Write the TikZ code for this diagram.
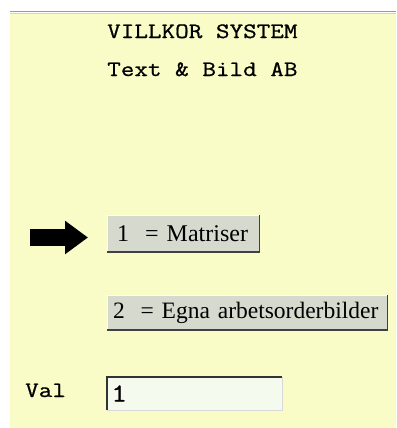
\documentclass[tikz,border=0pt]{standalone}
\usepackage{fontspec}
\setmainfont{Liberation Serif}
\setmonofont{Latin Modern Mono}[FakeStretch=1.2,FakeBold=0.8]
\usetikzlibrary{arrows.meta,positioning}
\definecolor{panelgul}{RGB}{250,252,200}
\definecolor{knappgra}{RGB}{214,218,206}
\definecolor{faltvit}{RGB}{244,250,238}

\begin{document}
\begin{tikzpicture}[x=1pt,y=-1pt,>=Latex]
  \tikzstyle{rubrik}=[anchor=base west,inner sep=0pt,font=\fontsize{22}{22}\selectfont\ttfamily]
  \tikzstyle{knapp}=[anchor=west,fill=knappgra,draw=white,align=left,font=\fontsize{24}{24}\selectfont]
  \tikzstyle{skugga}=[draw=black!75,line width=1.5pt]
  \useasboundingbox (0,0) rectangle (396,428);
  \fill[white] (0,0) rectangle (396,428);
  \fill[panelgul] (10,14) rectangle (396,428);
  \draw[gray!80,line width=1.5pt] (10,11.5) -- (396,11.5);
  \draw[gray!35,line width=1pt] (10,14) -- (396,14);
  \node[rubrik] (titel) at (107,38) {VILLKOR SYSTEM};
  \node[rubrik] (firma) at (107,76) {Text \& Bild AB};
  \node[knapp,minimum height=37pt,inner xsep=10pt,text width=132pt] (knapp1) at (107,233.5) {\mbox{1 \ = Matriser}};
  \node[knapp,minimum height=35pt,inner xsep=6pt,text width=268pt,font=\fontsize{23.5}{24}\selectfont] (knapp2) at (107,312.5) {\mbox{2 \ = Egna arbetsorderbilder}};
  \draw[skugga] (knapp1.south west) -- (knapp1.south east) -- (knapp1.north east);
  \draw[skugga] (knapp2.south west) -- (knapp2.south east) -- (knapp2.north east);
  \coordinate (pilstart) at (30,237.5);
  \draw[line width=17pt,-{Triangle[length=23pt,width=32pt]},shorten >=19pt] (pilstart) -- (pilstart -| knapp1.west);
  \node[anchor=west,fill=faltvit,draw=gray!30,minimum height=33pt,inner xsep=4pt,text width=167pt,align=left,font=\fontsize{26}{26}\selectfont\ttfamily] (val) at (107,393.5) {1};
  \draw[black!80,line width=2pt] (val.south west) -- (val.north west) -- (val.north east);
  \node[anchor=base west,inner sep=0pt,font=\fontsize{22}{22}\selectfont\ttfamily] (vallabel) at (25,397) {Val};
\end{tikzpicture}
\end{document}
